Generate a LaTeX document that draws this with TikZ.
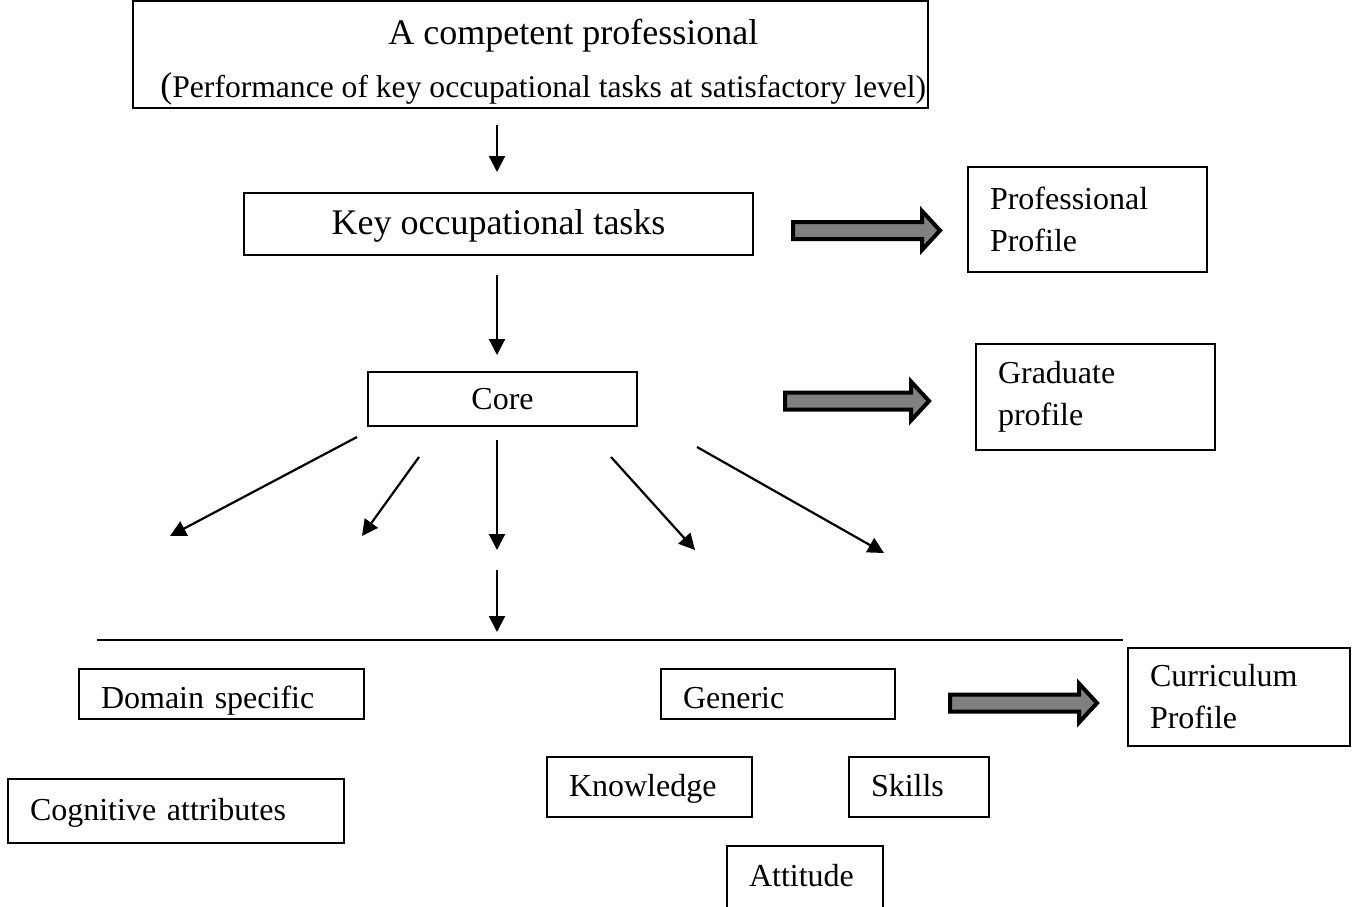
\documentclass[tikz,border=0pt]{standalone}
\usepackage{fontspec}
\setmainfont{Liberation Serif}
\usetikzlibrary{arrows.meta}

\begin{document}
\begin{tikzpicture}[x=0.5pt, y=-0.5pt,
  every node/.style = {font=\fontsize{16}{21}\selectfont},
         box/.style = {rectangle, draw, line width=1pt, inner sep=0pt,
                      minimum width=#1},
        lbox/.style = {rectangle, draw, line width=1pt, align=left,
                      inner xsep=11pt, inner ysep=0pt, text width=#1},
     oneline/.style = {text height=13pt, text depth=3.5pt},
         arr/.style = {-{Triangle[length=8pt,width=8pt]}, line width=1.1pt},
    fatarrow/.style = {draw=black, fill=gray, line width=2pt, line join=miter}
                    ]
\useasboundingbox (0,0) rectangle (1352,906);
\clip (0,0) rectangle (1352,906);
% boxes
\node (top) [box=397.5pt, minimum height=53.5pt] at (530.5,54.5) {};
\node (title) [anchor=base west, inner sep=0pt,
               font=\fontsize{18}{22}\selectfont] at (388,44) {A competent professional};
\node (subtitle) [anchor=base west, inner sep=0pt, font=\fontsize{15.8}{20}\selectfont] at (160,97)
      {{\fontsize{18}{22}\selectfont(}Performance of key occupational tasks at satisfactory level)};
\node (key) [box=254.5pt, minimum height=31pt, text height=14pt, text depth=4pt,
             font=\fontsize{18}{22}\selectfont] at (498.5,224) {Key occupational tasks};
\node (prof) [lbox=97.5pt, minimum height=52.5pt] at (1087.5,219.5) {Professional\\Profile};
\node (core) [box=134.5pt, minimum height=27pt] at (502.5,399) {Core};
\node (grad) [lbox=97.5pt, minimum height=53pt] at (1095.5,397) {Graduate\\profile};
\node (domain) [lbox=120.5pt, minimum height=25pt, text height=17.5pt, text depth=3.5pt]
      at (221.5,694) {Domain specific};
\node (generic) [lbox=95pt, minimum height=25pt, text height=17.5pt, text depth=3.5pt]
      at (778,694) {Generic};
\node (curr) [lbox=89pt, minimum height=49pt] at (1239,697) {Curriculum\\Profile};
\node (cog) [lbox=146pt, minimum height=32pt, oneline] at (176,811) {Cognitive attributes};
\node (know) [lbox=80.5pt, minimum height=30pt, oneline] at (649.5,787) {Knowledge};
\node (skills) [lbox=48pt, minimum height=30pt, oneline] at (919,787) {Skills};
\node (att) [lbox=56pt, minimum height=31pt, oneline] at (805,877) {Attitude};
% arrow ends
\coordinate (a1s) at (497,125);  \coordinate (a1e) at (497,172);
\coordinate (a2s) at (497,275);  \coordinate (a2e) at (497,355);
\coordinate (f1s) at (357,437);  \coordinate (f1e) at (170,536);
\coordinate (f2s) at (419,457);  \coordinate (f2e) at (362,536);
\coordinate (f3s) at (497,440);  \coordinate (f3e) at (497,550);
\coordinate (f4s) at (611,457);  \coordinate (f4e) at (695,550);
\coordinate (f5s) at (697,447);  \coordinate (f5e) at (884,553);
\coordinate (a3s) at (497,570);  \coordinate (a3e) at (497,632);
\coordinate (lineL) at (97,640); \coordinate (lineR) at (1123,640);
\draw[arr] (a1s) to (a1e);
\draw[arr] (a2s) to (a2e);
\draw[arr] (f1s) to (f1e);
\draw[arr] (f2s) to (f2e);
\draw[arr] (f3s) to (f3e);
\draw[arr] (f4s) to (f4e);
\draw[arr] (f5s) to (f5e);
\draw[arr] (a3s) to (a3e);
\draw[line width=1pt] (lineL) -- (lineR);
% block arrows
\coordinate (fat1) at (793,230.5);
\coordinate (fat2) at (785,401);
\coordinate (fat3) at (950,703);
\draw[fatarrow] (fat1) -- ++(0,-8.5) -- ++(129,0) -- ++(0,-11) -- ++(18,19.5)
      -- ++(-18,19.5) -- ++(0,-11) -- ++(-129,0) -- cycle;
\draw[fatarrow] (fat2) -- ++(0,-8.5) -- ++(126,0) -- ++(0,-11) -- ++(18,19.5)
      -- ++(-18,19.5) -- ++(0,-11) -- ++(-126,0) -- cycle;
\draw[fatarrow] (fat3) -- ++(0,-8.5) -- ++(129,0) -- ++(0,-11) -- ++(18,19.5)
      -- ++(-18,19.5) -- ++(0,-11) -- ++(-129,0) -- cycle;
\end{tikzpicture}
\end{document}
